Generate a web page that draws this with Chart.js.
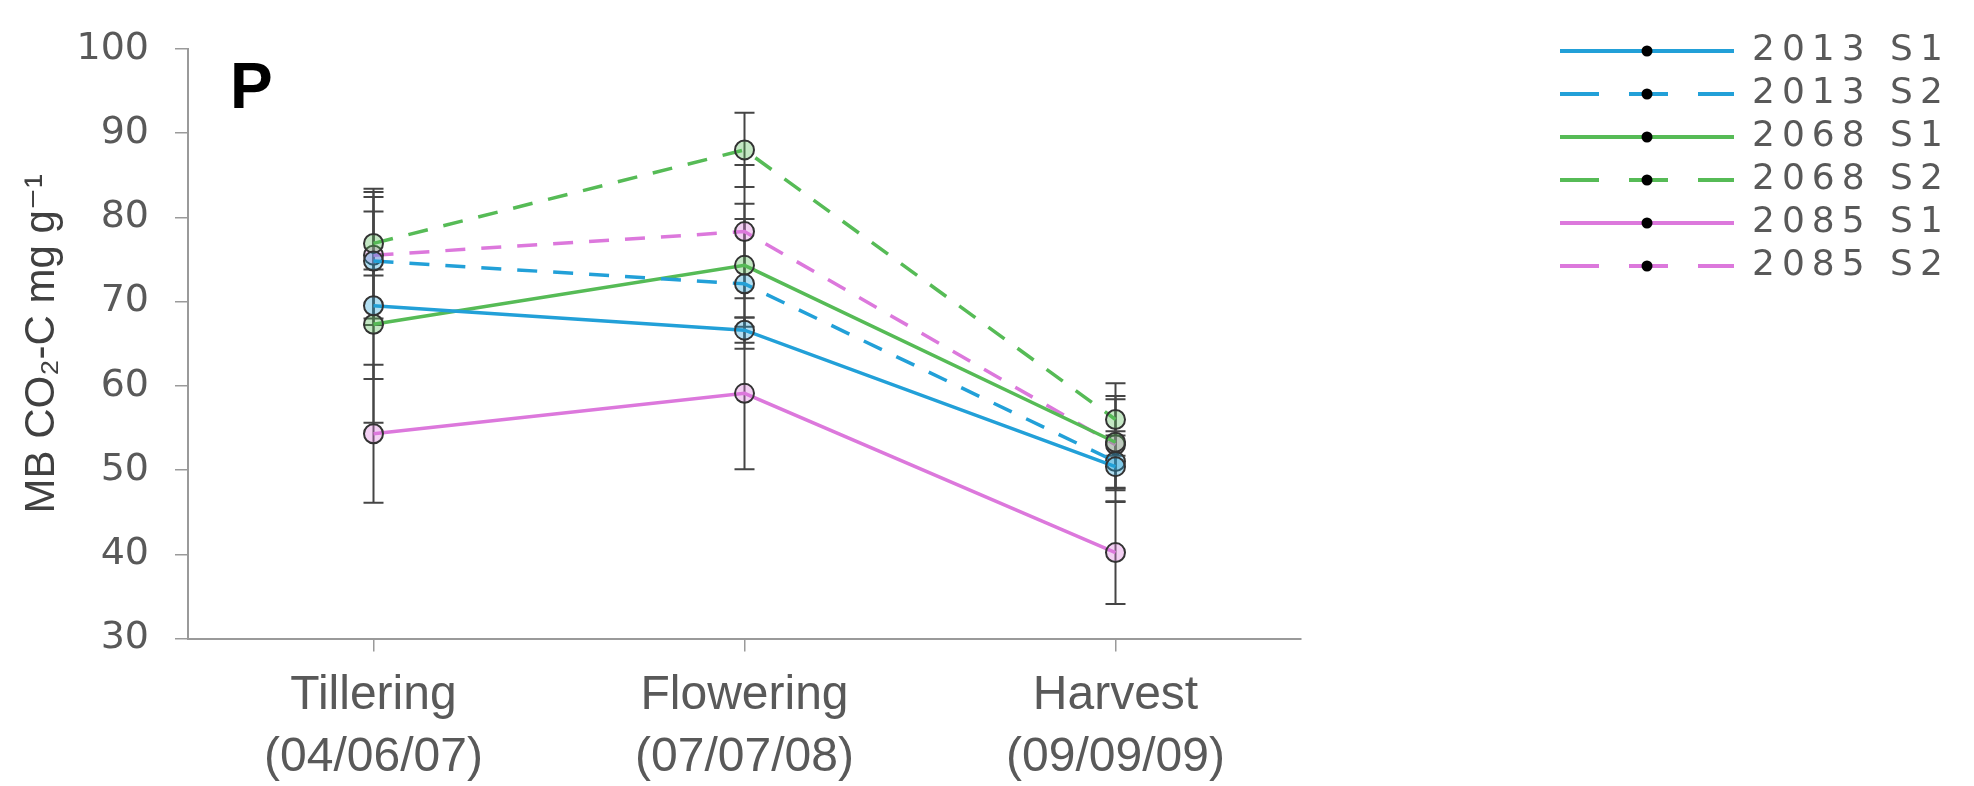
<!DOCTYPE html>
<html>
<head>
<meta charset="utf-8">
<script src="https://cdn.jsdelivr.net/npm/chart.js@4.4.1/dist/chart.umd.min.js"></script>
<style>
  html, body { margin: 0; padding: 0; background: #fff; }
  canvas { display: block; }
</style>
</head>
<body>
<canvas id="mbChart" width="1974" height="786"></canvas>
<script>
// values (mean and error per sampling stage)
const categories = ['Tillering', 'Flowering', 'Harvest'];
const samplingDates = ['(04/06/07)', '(07/07/08)', '(09/09/09)'];
const seriesNames = ['2013 S1', '2013 S2', '2068 S1', '2068 S2', '2085 S1', '2085 S2'];
const yTicks = [30, 40, 50, 60, 70, 80, 90, 100];

const mean2013S1 = [69.5, 66.6, 50.4];
const mean2013S2 = [74.8, 72.1, 51.0];
const mean2068S1 = [67.3, 74.3, 53.3];
const mean2068S2 = [76.9, 88.0, 56.0];
const mean2085S1 = [54.3, 59.1, 40.2];
const mean2085S2 = [75.5, 78.3, 53.0];

const err2013S1 = [13.9, 1.5, 4.2];
const err2013S2 = [7.6, 7.7, 3.1];
const err2068S1 = [6.5, 7.3, 5.5];
const err2068S2 = [3.8, 4.4, 4.3];
const err2085S1 = [8.2, 9.0, 6.1];
const err2085S2 = [7.5, 7.9, 5.4];

const seriesMeans = [mean2013S1, mean2013S2, mean2068S1, mean2068S2, mean2085S1, mean2085S2];
const seriesErrors = [err2013S1, err2013S2, err2068S1, err2068S2, err2085S1, err2085S2];

// styling
const seriesColors = ['#22A0D8', '#22A0D8', '#56BB56', '#56BB56', '#DC78DC', '#DC78DC'];
const seriesFills = ['rgba(34,160,216,0.35)', 'rgba(34,160,216,0.35)', 'rgba(86,187,86,0.35)',
                     'rgba(86,187,86,0.35)', 'rgba(220,120,220,0.35)', 'rgba(220,120,220,0.35)'];
const seriesDashed = [false, true, false, true, false, true];

function legendSwatch(color, dashed) {
    const c = document.createElement('canvas');
    c.width = 174;
    c.height = 14;
    const g = c.getContext('2d');
    g.strokeStyle = color;
    g.lineWidth = 4;
    g.setLineDash(dashed ? [39, 30] : []);
    g.beginPath();
    g.moveTo(0, 7);
    g.lineTo(174, 7);
    g.stroke();
    g.fillStyle = '#000';
    g.beginPath();
    g.arc(87, 7, 5.5, 0, Math.PI * 2);
    g.fill();
    return c;
}
const swatches = seriesNames.map((n, i) => legendSwatch(seriesColors[i], seriesDashed[i]));

const lineSets = seriesNames.map((name, i) => ({
    label: name,
    data: seriesMeans[i],
    borderColor: seriesColors[i],
    backgroundColor: seriesFills[i],
    borderWidth: 3.5,
    borderDash: seriesDashed[i] ? [20, 16] : [],
    pointRadius: 9.5,
    pointBorderColor: '#333',
    pointBorderWidth: 2,
    pointBackgroundColor: seriesFills[i],
    tension: 0,
    order: 1
}));

// error bars: one broken line per series, caps drawn as 'line' points
const errorSets = seriesNames.map((name, i) => ({
    label: name + ' error',
    data: categories.flatMap((c, j) => [
        { x: c, y: seriesMeans[i][j] - seriesErrors[i][j] },
        { x: c, y: seriesMeans[i][j] + seriesErrors[i][j] },
        { x: c, y: null }
    ]),
    borderColor: '#454545',
    borderWidth: 2,
    pointStyle: 'line',
    pointRadius: 10,
    pointBorderWidth: 2,
    pointBorderColor: '#454545',
    spanGaps: false,
    order: 2
}));

const layoutTweaks = {
    id: 'layoutTweaks',
    afterLayout(chart) {
        const legend = chart.legend;
        legend.left = chart.chartArea.right + 252;
        legend.right = chart.width;
        legend.width = legend.right - legend.left;
        legend.top = 26;
        if (!legend._spaced) {
            const drawLegend = legend.draw.bind(legend);
            legend.draw = function (area) {
                const ctx = this.ctx;
                ctx.save();
                ctx.letterSpacing = '7px';
                drawLegend(area);
                ctx.letterSpacing = '0px';
                ctx.restore();
            };
            legend._spaced = true;
        }
    },
    afterDraw(chart) {
        const { ctx, chartArea } = chart;
        ctx.save();
        ctx.font = 'bold 64px "Liberation Sans", Arial, sans-serif';
        ctx.fillStyle = '#000';
        ctx.textBaseline = 'alphabetic';
        ctx.fillText('P', chartArea.left + 42, chartArea.top + 59);
        ctx.restore();
    }
};

new Chart(document.getElementById('mbChart'), {
    type: 'line',
    data: {
        labels: categories,
        datasets: lineSets.concat(errorSets)
    },
    plugins: [layoutTweaks],
    options: {
        responsive: false,
        animation: false,
        events: [],
        layout: { padding: { left: 10, top: 29, right: 0, bottom: 0 } },
        plugins: {
            tooltip: { enabled: false },
            legend: {
                position: 'right',
                align: 'start',
                labels: {
                    usePointStyle: true,
                    pointStyleWidth: 174,
                    padding: 7,
                    color: '#595959',
                    font: { family: '"DejaVu Sans", sans-serif', size: 36 },
                    filter: item => item.datasetIndex < seriesNames.length,
                    generateLabels: chart => Chart.defaults.plugins.legend.labels.generateLabels(chart)
                        .map(item => Object.assign(item, { pointStyle: swatches[item.datasetIndex] }))
                }
            }
        },
        scales: {
            x: {
                type: 'category',
                offset: true,
                grid: { drawOnChartArea: false, offset: false, tickLength: 13, color: '#9a9a9a', lineWidth: 1.5 },
                border: { color: '#9a9a9a', width: 2 },
                ticks: {
                    padding: 13,
                    color: '#595959',
                    maxRotation: 0,
                    autoSkip: false,
                    font: { family: '"Liberation Sans", Arial, sans-serif', size: 48, lineHeight: 1.3 },
                    callback: (v, i) => [categories[i], samplingDates[i]]
                },
                afterFit: s => { s.height = 147.5; }
            },
            y: {
                min: 30,
                max: 100,
                afterBuildTicks: s => { s.ticks = yTicks.map(v => ({ value: v })); },
                grid: { drawOnChartArea: false, tickLength: 13, color: '#9a9a9a', lineWidth: 1.5 },
                border: { color: '#9a9a9a', width: 2 },
                ticks: {
                    padding: 26,
                    color: '#595959',
                    font: { family: '"DejaVu Sans", sans-serif', size: 38 }
                },
                title: {
                    display: true,
                    text: 'MB CO\u2082-C mg g\u207B\u00B9',
                    color: '#404040',
                    font: { family: '"Liberation Sans", "DejaVu Sans", sans-serif', size: 42 },
                    padding: { top: 7, bottom: 0 }
                },
                afterFit: s => { s.width = 178; }
            },
            gap: {
                type: 'linear',
                position: 'right',
                display: true,
                grid: { display: false, drawTicks: false },
                border: { display: false },
                ticks: { display: false },
                afterFit: s => { s.width = 673 - s.chart.legend.width; }
            }
        }
    }
});
</script>
</body>
</html>
